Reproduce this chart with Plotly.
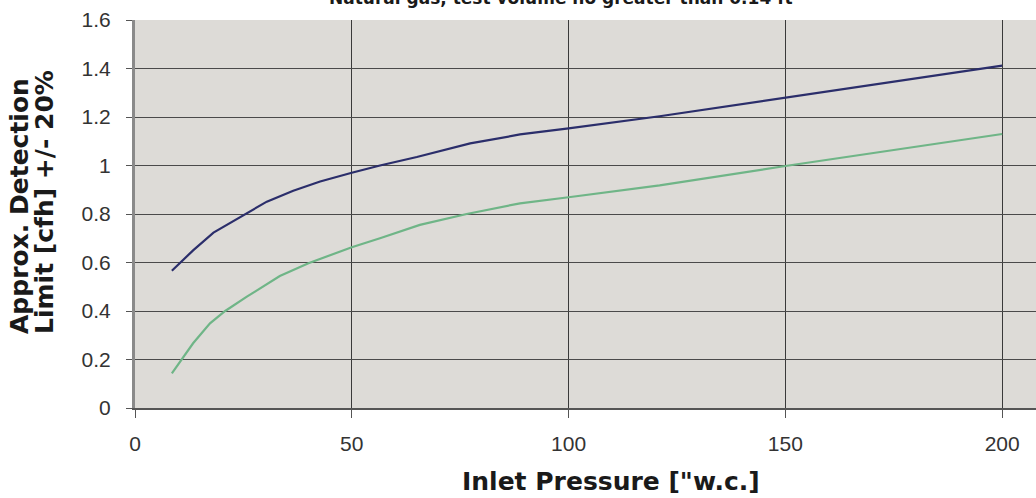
import plotly.graph_objects as go

# Data
blue_x = [8.5, 13.4, 18.1, 25.4, 30.4, 36.5, 42.7, 50, 56.5, 65, 77.3, 88.8, 100, 121, 150, 200]
blue_y = [0.566, 0.65, 0.723, 0.80, 0.851, 0.896, 0.934, 0.97, 1.0, 1.035, 1.091, 1.128, 1.153, 1.203, 1.28, 1.412]

green_x = [8.5, 10.8, 13.4, 17.3, 20.8, 25.8, 33.4, 40, 50, 56.5, 65.7, 76.5, 88.8, 100, 121, 150, 200]
green_y = [0.143, 0.2, 0.267, 0.349, 0.40, 0.459, 0.544, 0.597, 0.663, 0.70, 0.755, 0.80, 0.844, 0.869, 0.918, 0.998, 1.13]

x_ticks = [0, 50, 100, 150, 200]
y_ticks = [0, 0.2, 0.4, 0.6, 0.8, 1.0, 1.2, 1.4, 1.6]
y_tick_text = ["0", "0.2", "0.4", "0.6", "0.8", "1", "1.2", "1.4", "1.6"]

title_text = "Natural gas, test volume no greater than 0.14 ft<sup>3</sup>"
x_title = "Inlet Pressure [\"w.c.]"
y_title_lines = ["Approx. Detection", "Limit [cfh] +/- 20%"]

fig = go.Figure()
fig.add_trace(go.Scatter(x=blue_x, y=blue_y, mode="lines",
                         line=dict(color="#2b2e6b", width=2.2), showlegend=False))
fig.add_trace(go.Scatter(x=green_x, y=green_y, mode="lines",
                         line=dict(color="#6fb587", width=2.2), showlegend=False))

tickfont = dict(family="Liberation Sans, Arial, sans-serif", size=21, color="#333333")
boldfont = "DejaVu Sans, Liberation Sans, Arial, sans-serif"

fig.update_layout(
    width=1036, height=498,
    margin=dict(l=135, r=0, t=20, b=90),
    paper_bgcolor="white",
    plot_bgcolor="#dddbd7",
    xaxis=dict(range=[0, 207.8], tickvals=x_ticks, showgrid=True,
               gridcolor="#3a3a3a", gridwidth=1, zeroline=False,
               showline=True, linecolor="#555555", linewidth=2,
               ticks="outside", ticklen=8, tickcolor="#555555", tickwidth=1,
               tickfont=tickfont, ticklabelstandoff=8),
    yaxis=dict(range=[0, 1.6], tickvals=y_ticks, ticktext=y_tick_text,
               showgrid=True, gridcolor="#4a4a4a", gridwidth=1.2, zeroline=False,
               showline=True, linecolor="#8a8a8a", linewidth=3,
               ticks="outside", ticklen=6, tickcolor="#555555", tickwidth=1,
               tickfont=tickfont, ticklabelstandoff=11),
)

fig.add_annotation(text=x_title, xref="paper", yref="paper", x=0.528, y=0,
                   xanchor="center", yanchor="middle", yshift=-73, showarrow=False,
                   font=dict(family=boldfont, size=25, color="#1a1a1a", weight="bold"))
for line, xs in zip(y_title_lines, [-115, -90]):
    fig.add_annotation(text=line, xref="paper", yref="paper", x=0, y=0.1856,
                       xanchor="center", yanchor="bottom", xshift=xs, textangle=-90,
                       showarrow=False,
                       font=dict(family=boldfont, size=25, color="#1a1a1a", weight="bold"))
fig.add_annotation(text=title_text, xref="paper", yref="paper", x=0.477, y=1,
                   xanchor="center", yanchor="bottom", yshift=10, showarrow=False,
                   font=dict(family=boldfont, size=17, color="#1a1a1a", weight="bold"))

fig.write_html("out.html", config={"displayModeBar": False},
               post_script="document.body.style.margin='0';")
